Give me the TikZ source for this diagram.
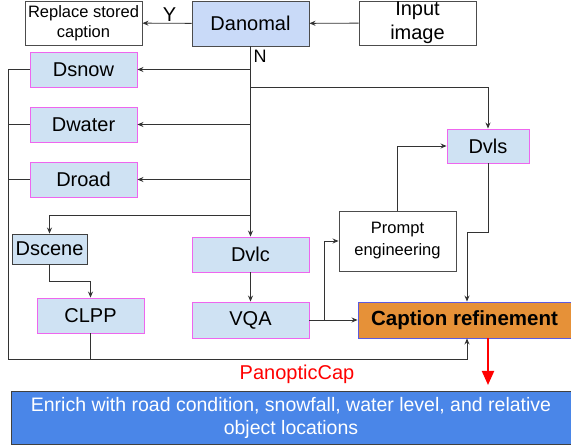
\documentclass[tikz,border=0pt]{standalone}
\usepackage{fontspec}
\setmainfont{Liberation Sans}
\usetikzlibrary{arrows.meta,calc}
\definecolor{detfill}{HTML}{CFE2F3}
\definecolor{detedge}{HTML}{EE66EE}
\definecolor{anomfill}{HTML}{C9DAF8}
\definecolor{refinefill}{HTML}{E69138}
\definecolor{refineedge}{HTML}{5B5BE0}
\definecolor{enrichfill}{HTML}{4A86E8}
\definecolor{wire}{HTML}{333333}
\tikzset{
  big/.style={font=\fontsize{20}{24}\selectfont},
  basebox/.style={rectangle, inner sep=0pt, align=center, line width=0.9pt},
  plainbox/.style={basebox, draw=black!70, fill=white},
  detbox/.style={basebox, big, draw=detedge, fill=detfill},
  wireline/.style={draw=wire, line width=0.9pt},
  arr/.style={wireline, -{Stealth[length=6pt,width=5pt]}},
}
\begin{document}
\begin{tikzpicture}[x=1pt,y=-1pt]
\useasboundingbox (0,0) rectangle (571,446);

% top row
\node[plainbox, minimum width=117pt, minimum height=44pt,
      font=\fontsize{16.5}{20}\selectfont] (replace) at (83.5,23) {Replace stored\\caption};
\node[basebox, big, draw=black!70, fill=anomfill, minimum width=117pt, minimum height=45pt] (danomal) at (250.5,23.5) {Danomal};
\node[plainbox, minimum width=117pt, minimum height=44pt,
      font=\fontsize{20}{24}\selectfont] (input) at (417.5,23) {Input\\image};

% detectors on the left
\node[detbox, minimum width=107pt, minimum height=35pt] (dsnow) at (83.5,69.5) {Dsnow};
\node[detbox, minimum width=107pt, minimum height=35pt] (dwater) at (83.5,124.5) {Dwater};
\node[detbox, minimum width=107pt, minimum height=35pt] (droad) at (83.5,179.5) {Droad};
\node[basebox, big, draw=black!75, fill=detfill, minimum width=75pt, minimum height=30pt] (dscene) at (49.5,249) {Dscene};
\node[detbox, minimum width=107pt, minimum height=35pt] (clpp) at (90.5,315.5) {CLPP};

% middle column
\node[detbox, minimum width=117pt, minimum height=35pt] (dvlc) at (250.5,254.5) {Dvlc};
\node[detbox, minimum width=117pt, minimum height=36pt] (vqa) at (250.5,320) {VQA};

% right column
\node[plainbox, minimum width=117pt, minimum height=60pt,
      font=\fontsize{16.5}{22}\selectfont] (prompt) at (397.5,241) {Prompt\\engineering};
\node[detbox, minimum width=82pt, minimum height=34pt] (dvls) at (488,146) {Dvls};
\node[basebox, draw=refineedge, fill=refinefill, minimum width=213pt, minimum height=36pt,
      font=\fontsize{20.5}{24}\selectfont\bfseries] (refine) at (464.5,320) {Caption refinement};

% output
\node[basebox, draw=black!75, fill=enrichfill, text=white, minimum width=560pt, minimum height=53pt,
      font=\fontsize{19.5}{23}\selectfont] (enrich) at (291,417.5)
      {Enrich with road condition, snowfall, water level, and relative\\object locations};
\node[text=red, font=\fontsize{20}{24}\selectfont, inner sep=0pt] (pcap) at (297,374) {PanopticCap};

% junction points
\coordinate (busL) at (8,359);
\coordinate (busR) at (467,359);
\coordinate (vlsTurn) at (488,87);
\coordinate (sceneTurn) at (49.5,215);
\coordinate (clppTurn) at (49.5,281);
\coordinate (vqaSplit) at (324,320);
\coordinate (dvlsTurn) at (488,232);
\coordinate (redEnd) at (488,385);

% decision branches
\draw[arr] (input) -- (danomal);
\draw[arr] (danomal) -- node[above, big, inner sep=1pt, pos=0.45] {Y} (replace);
\node[font=\fontsize{18}{20}\selectfont, anchor=north west, inner sep=0pt] (nlabel) at ($(danomal.south)+(3,3)$) {N};

% fan-out from the N branch
\draw[arr] (danomal.south) |- (dsnow.east);
\draw[arr] (danomal.south) |- (dwater.east);
\draw[arr] (danomal.south) |- (droad.east);
\draw[arr] (danomal.south) |- (vlsTurn) -- (dvls.north);
\draw[arr] (danomal.south) -- (dvlc.north);
\draw[arr] (danomal.south |- sceneTurn) -- (sceneTurn) -- (dscene.north);

% scene path
\draw[arr] (dscene.south) -- (clppTurn) -| (clpp.north);

% shared bus into refinement
\draw[arr] (dsnow.west) -| (busL) -- (busR) -- (busR |- refine.south);
\draw[wireline] (dwater.west) -- (dwater.west -| busL);
\draw[wireline] (droad.west) -- (droad.west -| busL);
\draw[wireline] (clpp.south) -- (clpp.south |- busL);

% VLM path
\draw[arr] (dvlc.south) -- (vqa.north);
\draw[arr] (vqa.east) -- (vqa.east -| refine.west);
\draw[arr] (vqaSplit) |- (prompt.west);
\draw[arr] (prompt.north) |- (dvls.west);
\draw[arr] (dvls.south) -- (dvlsTurn) -| (busR |- refine.north);

% final output
\draw[red, line width=2pt, -{Triangle[length=14pt,width=12pt]}] (refine.south -| redEnd) -- (redEnd);
\end{tikzpicture}
\end{document}
